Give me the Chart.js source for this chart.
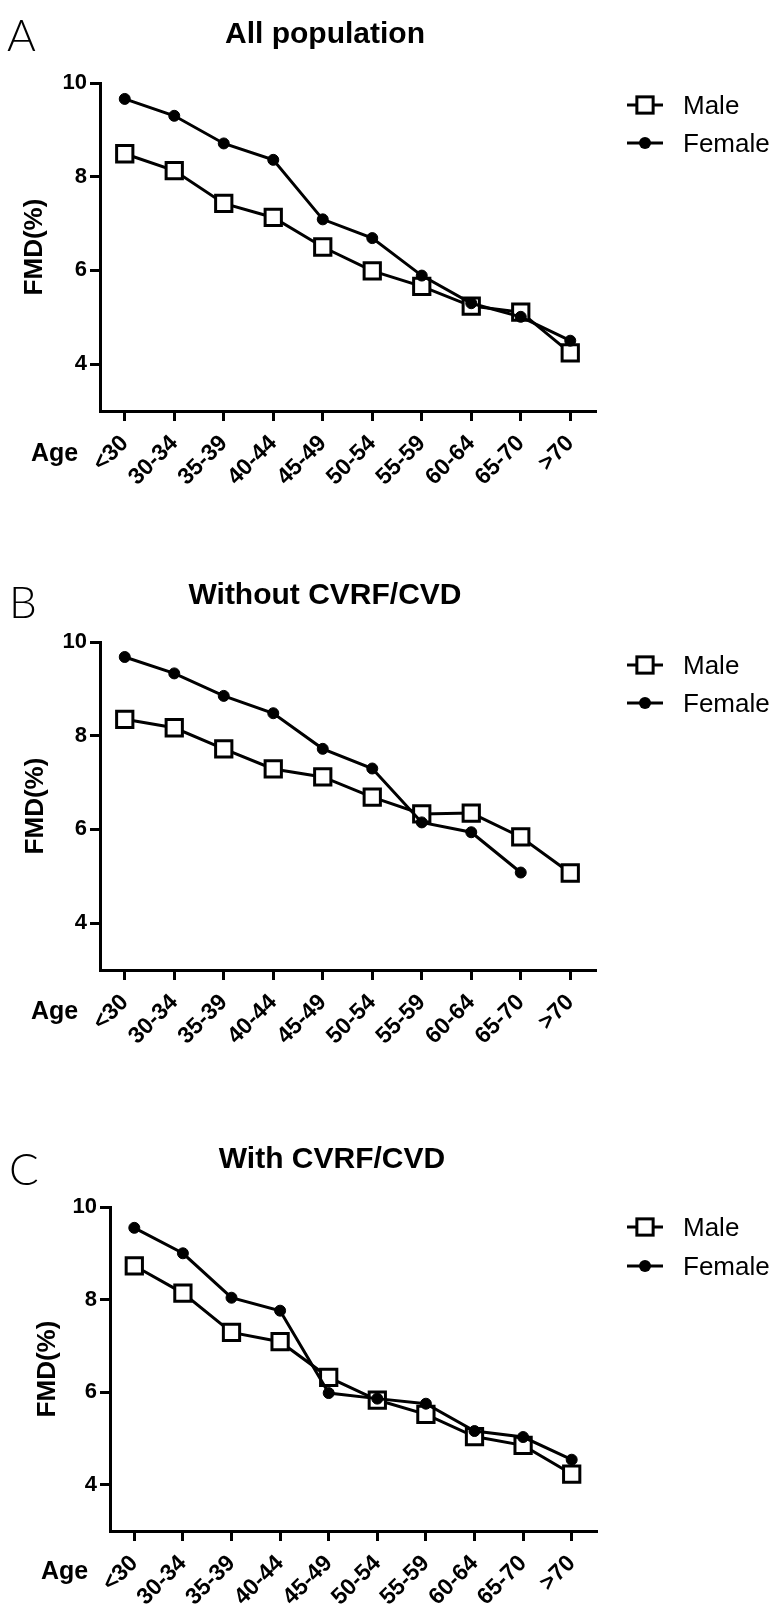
<!DOCTYPE html>
<html>
<head>
<meta charset="utf-8">
<script src="https://cdn.jsdelivr.net/npm/chart.js@4.4.0/dist/chart.umd.min.js"></script>
<style>
  body { margin: 0; background: #fff; }
  canvas { position: absolute; left: 0; }
</style>
</head>
<body>
<canvas id="chartA" width="777" height="540" style="top:0px"></canvas>
<canvas id="chartB" width="777" height="540" style="top:540px"></canvas>
<canvas id="chartC" width="777" height="539" style="top:1080px"></canvas>
<script>
const ageGroups = ['<30', '30-34', '35-39', '40-44', '45-49', '50-54', '55-59', '60-64', '65-70', '>70'];
const yTicks = [4, 6, 8, 10];

// A - all population
const allMale   = [8.49, 8.13, 7.43, 7.13, 6.50, 5.99, 5.66, 5.24, 5.11, 4.24];
const allFemale = [9.66, 9.30, 8.71, 8.36, 7.09, 6.69, 5.89, 5.30, 5.01, 4.50];

// B - without CVRF/CVD (no female point for >70)
const noRiskMale   = [8.35, 8.17, 7.72, 7.29, 7.12, 6.69, 6.33, 6.35, 5.84, 5.07];
const noRiskFemale = [9.68, 9.33, 8.85, 8.48, 7.72, 7.30, 6.15, 5.94, 5.08, null];

// C - with CVRF/CVD
const riskMale   = [8.73, 8.14, 7.29, 7.09, 6.32, 5.83, 5.52, 5.04, 4.85, 4.23];
const riskFemale = [9.55, 9.00, 8.04, 7.76, 5.98, 5.86, 5.75, 5.16, 5.03, 4.54];

const FONT = "'Liberation Sans', Arial, sans-serif";

// letter, title, "Age" and the legend, drawn over each chart
const panelDecor = {
  id: 'panelDecor',
  afterDraw(chart, args, o) {
    const ctx = chart.ctx;
    ctx.save();
    ctx.fillStyle = '#000';
    ctx.strokeStyle = '#000';
    ctx.textBaseline = 'alphabetic';

    ctx.font = "300 44px Lato, 'Open Sans', 'DejaVu Sans', sans-serif";
    ctx.textAlign = 'left';
    ctx.fillText(o.letter, o.letterX, o.letterY);

    ctx.font = 'bold 30px ' + FONT;
    ctx.textAlign = 'center';
    ctx.fillText(o.title, o.titleX, o.titleY);

    ctx.font = 'bold 25px ' + FONT;
    ctx.textAlign = 'left';
    ctx.fillText('Age', o.ageX, o.ageY);

    chart.data.datasets.forEach((ds, i) => {
      const y = o.legendY[i];
      ctx.lineWidth = 3;
      ctx.beginPath();
      ctx.moveTo(627, y);
      ctx.lineTo(663, y);
      ctx.stroke();
      if (ds.pointStyle === 'rect') {
        const s = ds.pointRadius * Math.SQRT1_2;
        ctx.fillStyle = '#fff';
        ctx.fillRect(645 - s, y - s, 2 * s, 2 * s);
        ctx.strokeRect(645 - s, y - s, 2 * s, 2 * s);
      } else {
        ctx.fillStyle = '#000';
        ctx.beginPath();
        ctx.arc(645, y, ds.pointRadius + 0.5, 0, Math.PI * 2);
        ctx.fill();
      }
      ctx.fillStyle = '#000';
      ctx.font = '26px ' + FONT;
      ctx.fillText(ds.label, 683, y + 9.3);
    });
    ctx.restore();
  }
};

function makeChart(id, male, female, area, deco) {
  const canvas = document.getElementById(id);
  const axisH = 110;
  return new Chart(canvas, {
    type: 'line',
    data: {
      labels: ageGroups,
      datasets: [
        {
          label: 'Male',
          data: male,
          order: 1,
          borderColor: '#000',
          borderWidth: 3,
          pointStyle: 'rect',
          pointRadius: 11.5,
          pointBorderWidth: 3,
          pointBorderColor: '#000',
          pointBackgroundColor: '#fff'
        },
        {
          label: 'Female',
          data: female,
          order: 0,
          borderColor: '#000',
          borderWidth: 3,
          pointStyle: 'circle',
          pointRadius: 5.5,
          pointBorderWidth: 1,
          pointBorderColor: '#000',
          pointBackgroundColor: '#000'
        }
      ]
    },
    options: {
      responsive: false,
      animation: false,
      layout: {
        padding: {
          left: 0,
          top: area.top,
          right: 777 - area.right,
          bottom: canvas.height - area.bottom - axisH
        }
      },
      scales: {
        x: {
          type: 'category',
          offset: true,
          afterFit(s) { s.height = axisH; },
          grid: { drawOnChartArea: false, color: '#000', lineWidth: 3, tickLength: 10 },
          border: { display: true, color: '#000', width: 3 },
          ticks: {
            color: '#000',
            font: { family: FONT, size: 23, weight: 'bold' },
            minRotation: 45,
            maxRotation: 45,
            autoSkip: false,
            padding: 9
          }
        },
        y: {
          min: 3,
          max: 10,
          afterBuildTicks(s) { s.ticks = yTicks.map(v => ({ value: v })); },
          afterFit(s) { s.width = area.left; },
          grid: { drawOnChartArea: false, color: '#000', lineWidth: 3, tickLength: 10 },
          border: { display: true, color: '#000', width: 3 },
          ticks: {
            color: '#000',
            font: { family: FONT, size: 22, weight: 'bold' },
            padding: 3
          },
          title: {
            display: true,
            text: 'FMD(%)',
            color: '#000',
            font: { family: FONT, size: 26, weight: 'bold' },
            padding: { top: area.titlePad, bottom: 0 }
          }
        }
      },
      plugins: {
        legend: { display: false },
        tooltip: { enabled: false },
        panelDecor: deco
      }
    },
    plugins: [panelDecor]
  });
}

makeChart('chartA', allMale, allFemale,
  { left: 100, right: 595, top: 83, bottom: 411, titlePad: 19 },
  { letter: 'A', letterX: 7, letterY: 51, title: 'All population', titleX: 325, titleY: 43,
    ageX: 31, ageY: 461, legendY: [105, 143] });

makeChart('chartB', noRiskMale, noRiskFemale,
  { left: 100, right: 595, top: 102, bottom: 430, titlePad: 20 },
  { letter: 'B', letterX: 9, letterY: 78, title: 'Without CVRF/CVD', titleX: 325, titleY: 64,
    ageX: 31, ageY: 479, legendY: [125, 163] });

makeChart('chartC', riskMale, riskFemale,
  { left: 110, right: 596, top: 127, bottom: 451, titlePad: 32 },
  { letter: 'C', letterX: 9, letterY: 105, title: 'With CVRF/CVD', titleX: 332, titleY: 88,
    ageX: 41, ageY: 499, legendY: [147, 186] });
</script>
</body>
</html>
